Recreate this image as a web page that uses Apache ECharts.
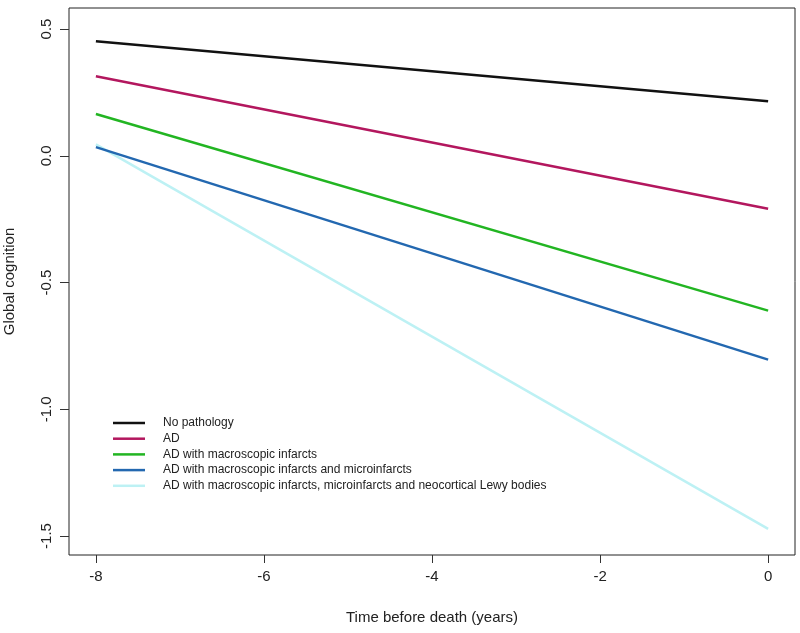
<!DOCTYPE html>
<html>
<head>
<meta charset="utf-8">
<script src="https://cdn.jsdelivr.net/npm/echarts@6/dist/echarts.min.js"></script>
<style>html,body{margin:0;padding:0;background:#fff}#c{width:800px;height:633px}</style>
</head>
<body>
<div id="c"></div>
<script>
const times = [-8, 0];
const seriesNames = [
  'No pathology',
  'AD',
  'AD with macroscopic infarcts',
  'AD with macroscopic infarcts and microinfarcts',
  'AD with macroscopic infarcts, microinfarcts and neocortical Lewy bodies'
];
const noPathology = [0.452, 0.215];
const ad = [0.314, -0.209];
const adMacro = [0.165, -0.611];
const adMacroMicro = [0.034, -0.804];
const adMacroMicroLewy = [0.045, -1.472];
const xTicks = [-8, -6, -4, -2, 0];
const yTicks = [-1.5, -1.0, -0.5, 0.0, 0.5];

const values = [noPathology, ad, adMacro, adMacroMicro, adMacroMicroLewy];
const colors = ['#111111', '#b3175e', '#22b522', '#2368b0', '#bdf1f4'];
const font = 'Liberation Sans, Arial, sans-serif';

const chart = echarts.init(document.getElementById('c'));
chart.setOption({
  animation: false,
  backgroundColor: '#ffffff',
  grid: {
    left: 69, top: 8, right: 5, bottom: 78,
    outerBoundsMode: 'none',
    containLabel: false,
    show: true, borderColor: '#222', borderWidth: 1, backgroundColor: 'transparent'
  },
  legend: {
    orient: 'vertical',
    left: 108, top: 411,
    icon: 'rect',
    itemWidth: 32, itemHeight: 2.5,
    itemGap: 1.7,
    textStyle: { fontFamily: font, fontSize: 12, color: '#222', padding: [0, 0, 0, 13], lineHeight: 14 },
    data: seriesNames
  },
  xAxis: {
    type: 'value',
    min: -8.32, max: 0.32,
    name: 'Time before death (years)',
    nameLocation: 'middle',
    nameGap: 55,
    nameTextStyle: { fontFamily: font, fontSize: 15, color: '#222' },
    axisLine: { show: false, onZero: false },
    splitLine: { show: false },
    axisTick: { show: true, customValues: xTicks, length: 8, lineStyle: { color: '#333' } },
    axisLabel: { customValues: xTicks, margin: 14, fontFamily: font, fontSize: 15, color: '#222',
      formatter: v => String(v) }
  },
  yAxis: {
    type: 'value',
    min: -1.575, max: 0.583,
    name: 'Global cognition',
    nameLocation: 'middle',
    nameGap: 52,
    nameRotate: 90,
    nameTextStyle: { fontFamily: font, fontSize: 15, color: '#222' },
    axisLine: { show: false, onZero: false },
    splitLine: { show: false },
    axisTick: { show: true, customValues: yTicks, length: 9, lineStyle: { color: '#333' } },
    axisLabel: { customValues: yTicks, rotate: 90, margin: 15, fontFamily: font, fontSize: 15, color: '#222',
      formatter: v => v.toFixed(1) }
  },
  series: seriesNames.map((n, i) => ({
    name: n,
    type: 'line',
    data: times.map((t, j) => [t, values[i][j]]),
    showSymbol: false,
    symbol: 'none',
    lineStyle: { color: colors[i], width: 2.5 },
    itemStyle: { color: colors[i] },
    z: 10 - i
  }))
});
</script>
</body>
</html>
